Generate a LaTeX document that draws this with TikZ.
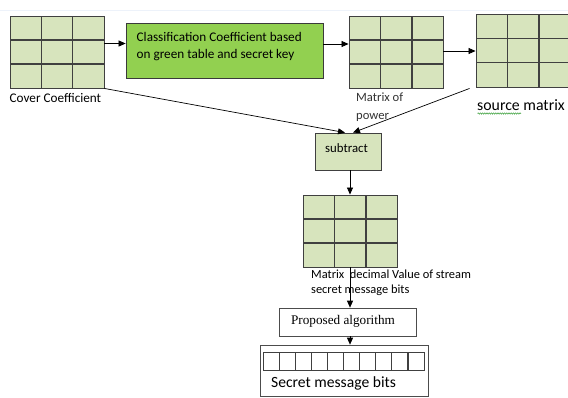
\documentclass[tikz,border=0pt]{standalone}
\usepackage{fontspec}
\setmainfont{Carlito}
\newfontfamily\serifalg{Liberation Serif}
\usetikzlibrary{arrows.meta,calc,decorations.pathmorphing}

\definecolor{cellfill}{HTML}{D7E4BD}
\definecolor{cellline}{HTML}{404040}
\definecolor{keyfill}{HTML}{92D050}
\definecolor{keyline}{HTML}{3A3A3A}
\definecolor{topline}{HTML}{EDF2FA}
\definecolor{squiggle}{HTML}{3CA03C}

\tikzset{
  flow/.style={-{Triangle[length=7pt,width=6pt]}, line width=0.7pt, black},
  % 3x3 matrix drawn as one filled cell block
  grid3/.style={draw=cellline, fill=cellfill, line width=0.9pt, inner sep=0pt,
    minimum width=94pt, minimum height=72pt,
    path picture={
      \foreach \t in {0.333,0.667}{
        \draw[cellline, line width=1.6pt]
          ($(path picture bounding box.south west)!\t!(path picture bounding box.south east)$) --
          ($(path picture bounding box.north west)!\t!(path picture bounding box.north east)$);
        \draw[cellline, line width=1.6pt]
          ($(path picture bounding box.south west)!\t!(path picture bounding box.north west)$) --
          ($(path picture bounding box.south east)!\t!(path picture bounding box.north east)$);
      }
    }},
  % one row of ten message bits
  bitrow/.style={draw=cellline, fill=white, line width=0.7pt, inner sep=0pt,
    minimum width=161pt, minimum height=18pt,
    path picture={
      \foreach \i in {1,...,9}{
        \draw[cellline, line width=1.2pt]
          ($(path picture bounding box.south west)!\i/10!(path picture bounding box.south east)$) --
          ($(path picture bounding box.north west)!\i/10!(path picture bounding box.north east)$);
      }
    }},
  plainbox/.style={draw=black!70, fill=white, line width=0.7pt, inner sep=0pt},
  caption/.style={inner sep=0pt, align=left}
}

\begin{document}
\begin{tikzpicture}[x=1pt, y=-1pt]
  \clip (0,0) rectangle (568,397);
  \useasboundingbox (0,0) rectangle (568,397);
  \fill[white] (0,0) rectangle (568,397);
  \draw[topline, line width=1pt] (0,10) -- (568,10);

  % top row
  \node[grid3] (cover) at (57,52) {};
  \node[draw=keyline, fill=keyfill, line width=0.8pt, minimum width=197pt, minimum height=55pt, inner sep=0pt] (key) at (224.5,50.5) {};
  \node[caption, anchor=west, font=\fontsize{13.2}{17}\selectfont] (keytext) at (136.5,46.5)
    {Classification Coefficient based\\on green table and secret key};
  \node[grid3] (power) at (396,52) {};
  \node[grid3, minimum height=73pt] (source) at (523,50.5) {};

  \node[caption, anchor=west, font=\fontsize{13.2}{15}\selectfont] (coverlbl) at (9.5,97.5) {Cover Coefficient};
  \node[caption, anchor=north west, font=\fontsize{12.6}{18}\selectfont, text=black!80] (powerlbl) at (356,92.5) {Matrix of\\power};
  \node[caption, anchor=west, font=\fontsize{15.8}{18}\selectfont] (sourcelbl) at (477,105) {source matrix};
  \draw[squiggle, line width=0.5pt, decorate, decoration={snake, amplitude=0.7pt, segment length=2.2pt}]
    (477.5,113.5) -- (521,113.5);

  % middle column
  \node[draw=cellline, fill=cellfill, line width=0.8pt, minimum width=66pt, minimum height=37pt, inner sep=0pt] (sub) at (348,151.5) {};
  \node[caption, font=\fontsize{12.8}{15}\selectfont] (subtext) at (346.5,148) {subtract};
  \node[grid3] (diff) at (350,231) {};
  \node[caption, anchor=north west, font=\fontsize{12.4}{15}\selectfont] (difflbl) at (311,270)
    {Matrix \ decimal Value of stream\\secret message bits};

  \node[plainbox, minimum width=137pt, minimum height=28pt] (alg) at (347.5,322) {};
  \node[inner sep=0pt, font=\serifalg\fontsize{13.2}{15}\selectfont] (algtext) at (343,321) {Proposed algorithm};

  \node[plainbox, minimum width=168pt, minimum height=51pt] (bits) at (344,370.5) {};
  \node[bitrow] (bitrow) at (343.5,361) {};
  \node[caption, anchor=west, font=\fontsize{15.6}{18}\selectfont] (bitslbl) at (271,383) {Secret message bits};

  % connectors
  \draw[flow] (cover.east |- 0,43.5) -- (key.west |- 0,43.5);
  \draw[flow] (key.east |- 0,44) -- (power.west |- 0,44);
  \draw[flow] (power.east |- 0,51) -- (source.west |- 0,51);
  \draw[flow] (cover.south east) -- (sub.north -| 345,0);
  \draw[flow] ($(source.south west)+(-6,1)$) -- (sub.north -| 353,0);
  \draw[flow] (sub.south -| diff.north) -- (diff.north);
  \draw[flow] (diff.south) -- (alg.north -| diff.south);
  \draw[flow] (alg.south -| diff.south) -- (bits.north -| diff.south);
\end{tikzpicture}
\end{document}
